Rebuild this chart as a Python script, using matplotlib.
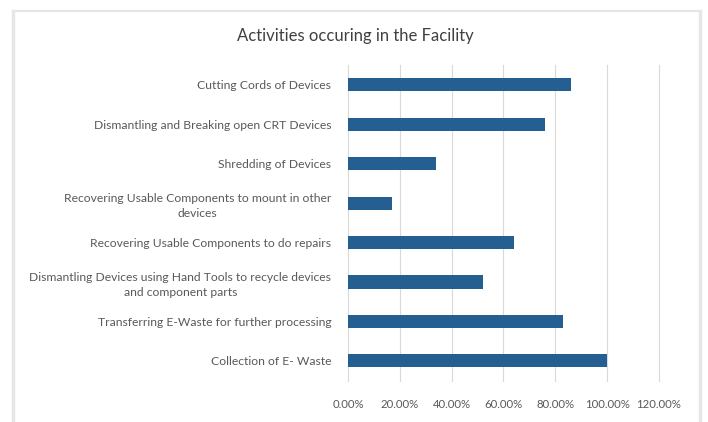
import matplotlib.pyplot as plt
from matplotlib.lines import Line2D
from matplotlib.ticker import FuncFormatter

# Actividades (de arriba a abajo) y porcentaje de instalaciones
actividades = [
    'Cutting Cords of Devices',
    'Dismantling and Breaking open CRT Devices',
    'Shredding of Devices',
    'Recovering Usable Components to mount in other\ndevices',
    'Recovering Usable Components to do repairs',
    'Dismantling Devices using Hand Tools to recycle devices\nand component parts',
    'Transferring E-Waste for further processing',
    'Collection of E- Waste',
]
porcentajes = [0.86, 0.76, 0.34, 0.17, 0.64, 0.52, 0.83, 1.00]
ticks_x = [0, 0.2, 0.4, 0.6, 0.8, 1.0, 1.2]

azul = '#255e91'
gris_texto = '#595959'
fuente = ['Lato', 'DejaVu Sans']

fig = plt.figure(figsize=(7.08, 4.22), dpi=100)
ax = fig.add_axes([0.4915, 0.098, 0.4393, 0.748])

pos = list(range(len(actividades)))
ax.barh(pos, porcentajes, height=0.33, color=azul, zorder=3)
ax.set_ylim(len(actividades) - 0.5, -0.5)
ax.set_xlim(0, 1.2)
ax.set_xticks(ticks_x)
ax.xaxis.set_major_formatter(FuncFormatter(lambda v, _: f'{v * 100:.2f}%'))
ax.set_yticks(pos)
ax.set_yticklabels(actividades, multialignment='center', linespacing=1.45)

ax.grid(axis='x', color='#d9d9d9', linewidth=0.8, zorder=0)
for gl in ax.get_xgridlines():
    gl.set_clip_on(False)
for lado in ax.spines.values():
    lado.set_visible(False)
ax.tick_params(length=0, colors=gris_texto)
ax.tick_params(axis='y', pad=12, labelsize=8.7)
ax.tick_params(axis='x', pad=13, labelsize=8.2)
for lbl in ax.get_xticklabels() + ax.get_yticklabels():
    lbl.set_family(fuente)

fig.text(0.502, 0.915, 'Activities occuring in the Facility', ha='center', va='center',
         fontsize=12, color='#404040', family=fuente)

# marco gris del grafico
for x in (0.019, 0.989):
    fig.add_artist(Line2D([x, x], [0, 0.974], color='#e6e6e6', linewidth=2.5))
fig.add_artist(Line2D([0.019, 0.989], [0.974, 0.974], color='#e6e6e6', linewidth=1.5))

fig.savefig('out.png', dpi=100)
